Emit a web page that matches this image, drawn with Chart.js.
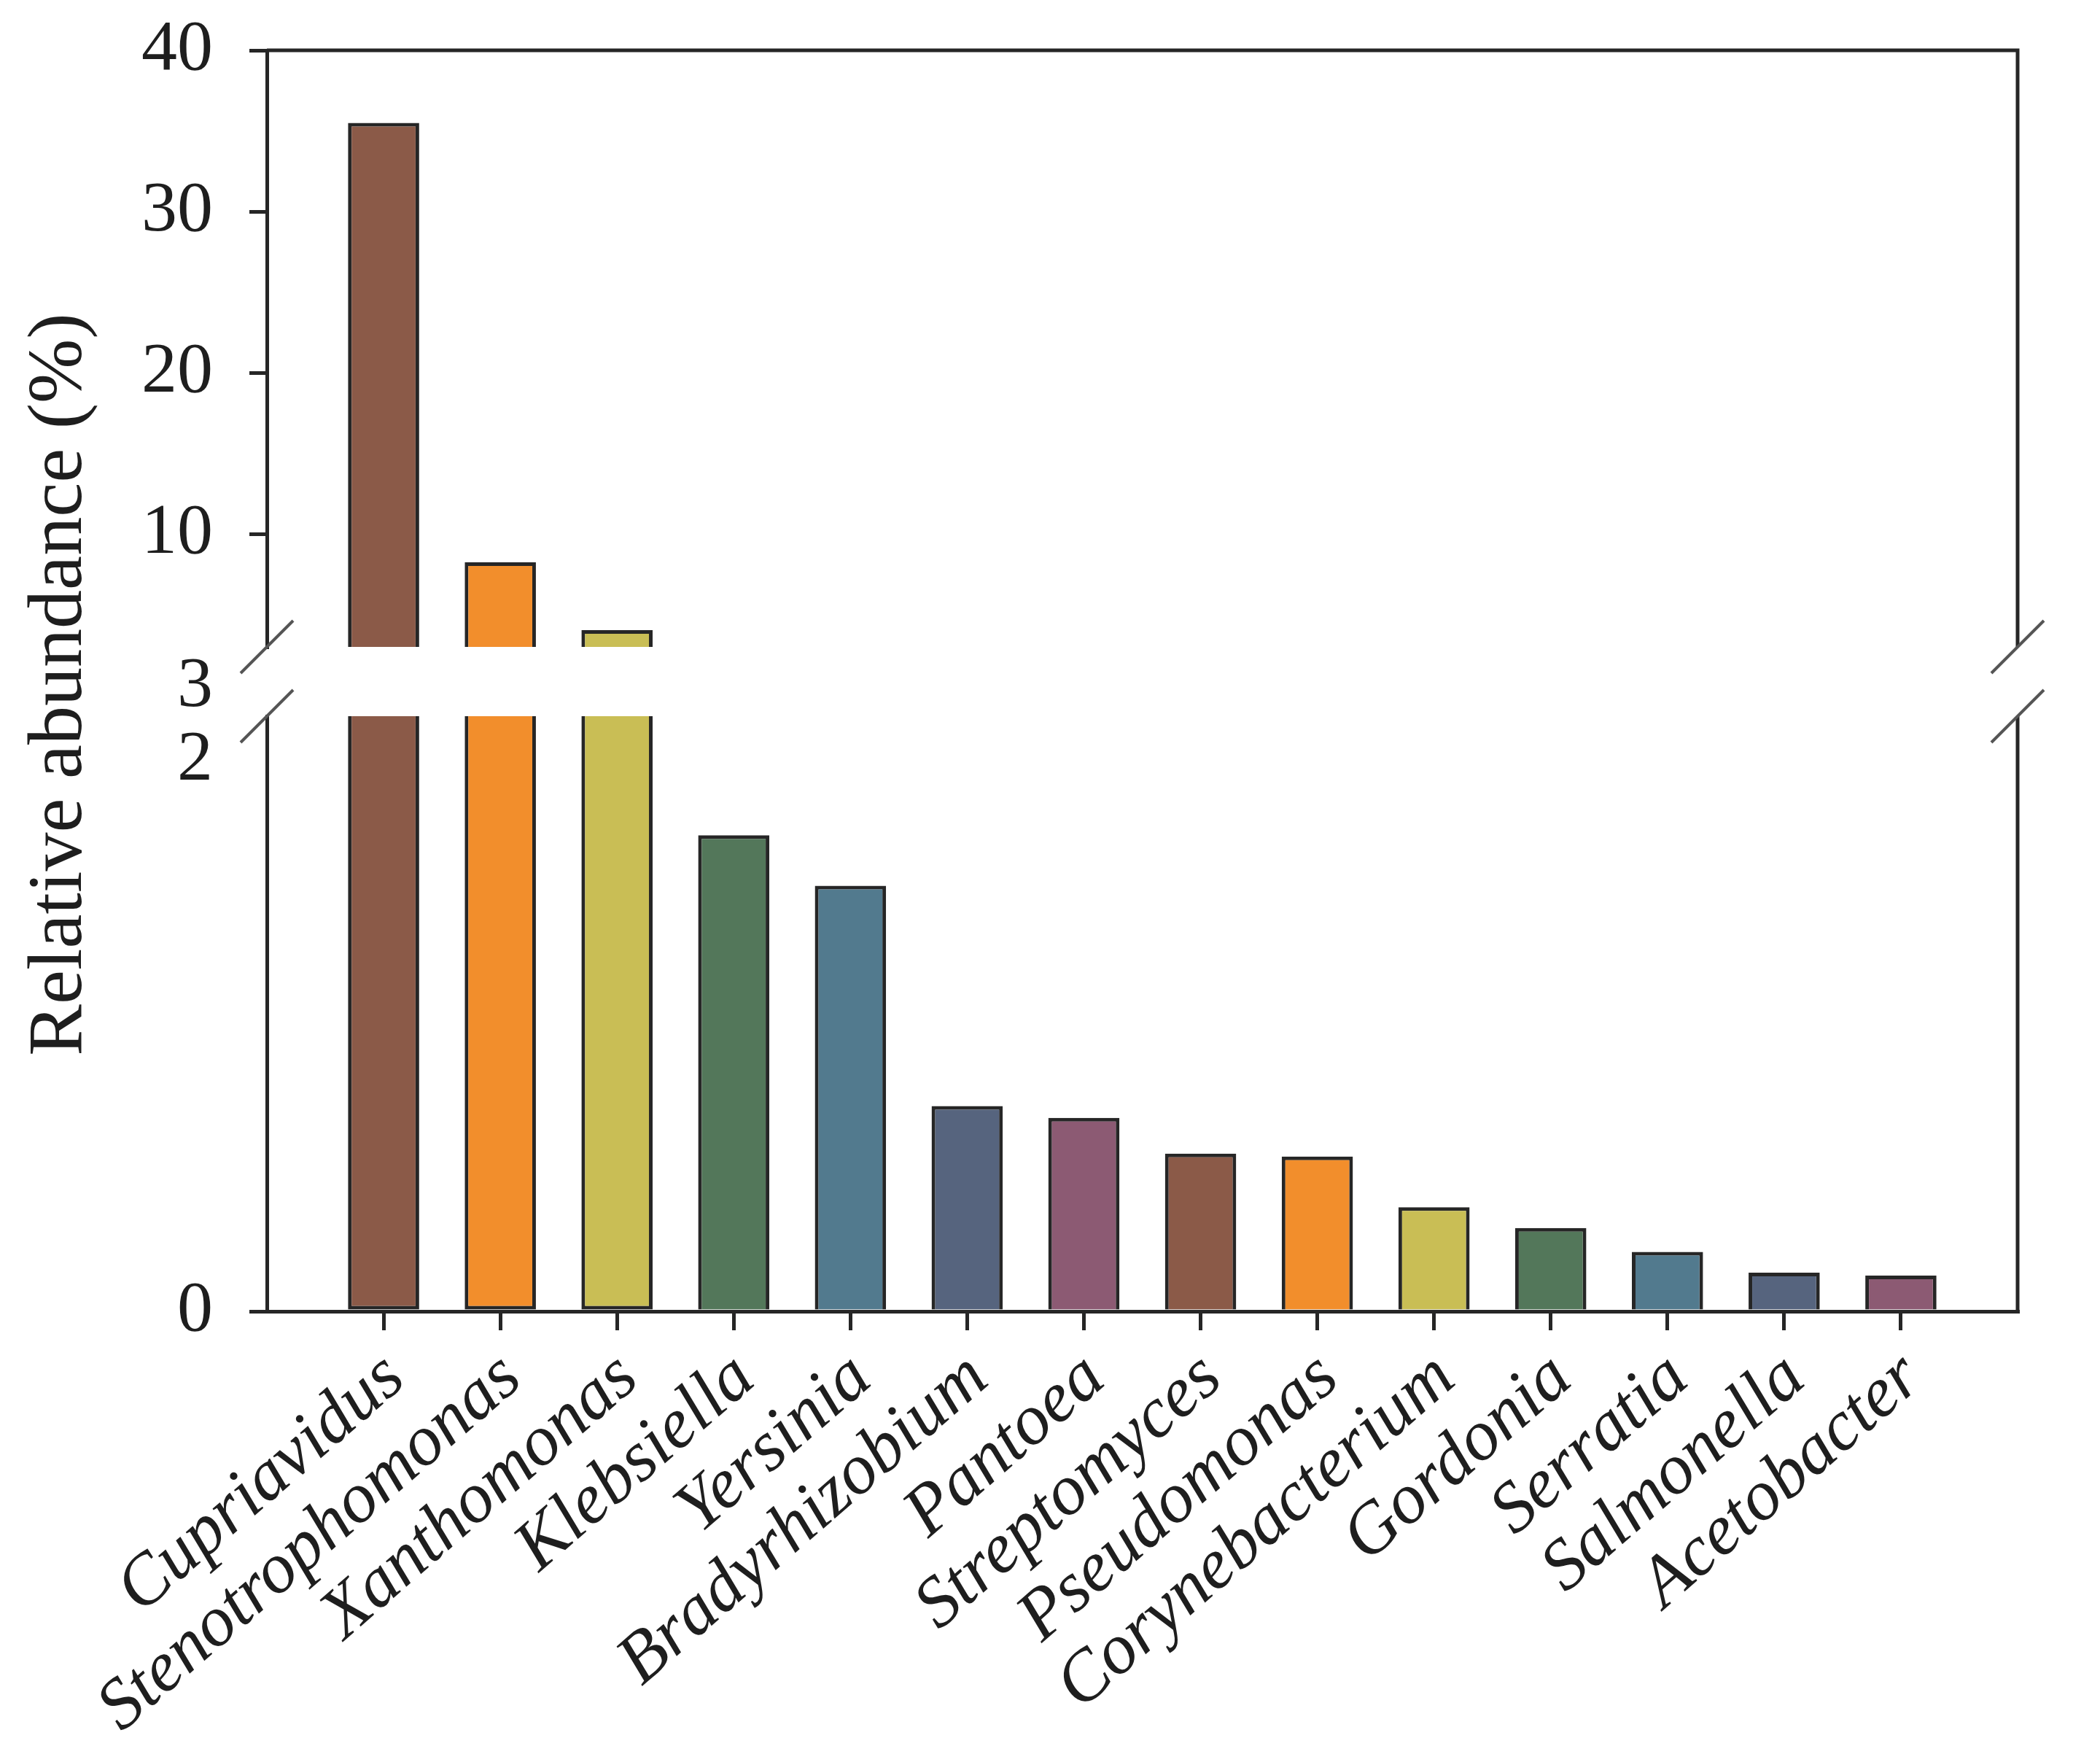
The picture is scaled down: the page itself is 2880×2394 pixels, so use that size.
<!DOCTYPE html>
<html>
<head>
<meta charset="utf-8">
<script src="https://cdn.jsdelivr.net/npm/chart.js@4.4.1/dist/chart.umd.min.js"></script>
<style>
  html, body { margin: 0; padding: 0; background: #fff; }
  canvas { display: block; }
</style>
</head>
<body>
<canvas id="abundanceChart" width="2880" height="2394"></canvas>
<script>
// genera, in plot order
const categories = ['Cupriavidus', 'Stenotrophomonas', 'Xanthomonas', 'Klebsiella', 'Yersinia',
  'Bradyrhizobium', 'Pantoea', 'Streptomyces', 'Pseudomonas', 'Corynebacterium',
  'Gordonia', 'Serratia', 'Salmonella', 'Acetobacter'];

// relative abundance (%)
const abundance = [35.5, 8.25, 4.04, 1.60, 1.43, 0.69, 0.65, 0.53, 0.52, 0.35, 0.28, 0.2, 0.13, 0.12];

// broken y axis: lower part 0..2, upper part 3..40
const lowerMax = 2;
const upperMin = 3;
const upperMax = 40;
const upperTicks = [10, 20, 30, 40];
const lowerTicks = [0];
const breakLabels = [3, 2];

const palette = ['#8b5a48', '#f28e2c', '#c9be55', '#53775a', '#527a8e', '#56647e', '#8c5a73'];

const axisColor = '#262626';
const textColor = '#1e1e1e';
const serif = "'Liberation Serif', 'Times New Roman', serif";

const barColors = categories.map((_, i) => palette[i % palette.length]);

const lowerData = abundance.map((v, i) => ({ x: i, y: [0, Math.min(v, lowerMax)] }));
const upperData = abundance
  .map((v, i) => ({ x: i, y: [upperMin, v], c: barColors[i] }))
  .filter(d => d.y[1] > upperMin);

const breakPlugin = {
  id: 'axisBreak',
  afterDraw(chart) {
    const { ctx, chartArea } = chart;
    const top = chart.scales.yTop;
    const bottom = chart.scales.yBottom;
    ctx.save();

    // frame: top and right side, broken at the gap
    ctx.strokeStyle = axisColor;
    ctx.lineWidth = 5;
    ctx.beginPath();
    ctx.moveTo(chartArea.left, chartArea.top);
    ctx.lineTo(chartArea.right, chartArea.top);
    ctx.lineTo(chartArea.right, top.bottom);
    ctx.moveTo(chartArea.right, bottom.top);
    ctx.lineTo(chartArea.right, chartArea.bottom);
    ctx.stroke();

    // break marks
    ctx.strokeStyle = '#555';
    ctx.lineWidth = 4;
    const d = 36;
    [chartArea.left, chartArea.right].forEach(x => {
      [top.bottom, bottom.top].forEach(y => {
        ctx.beginPath();
        ctx.moveTo(x - d, y + d);
        ctx.lineTo(x + d, y - d);
        ctx.stroke();
      });
    });

    // labels next to the break
    ctx.fillStyle = textColor;
    ctx.font = '98px ' + serif;
    ctx.textAlign = 'right';
    ctx.textBaseline = 'middle';
    const labelX = chartArea.left - 24 - 50;
    ctx.fillText(String(breakLabels[0]), labelX, top.getPixelForValue(upperMin) + 55);
    ctx.fillText(String(breakLabels[1]), labelX, bottom.getPixelForValue(lowerMax) + 61);

    // y axis title
    ctx.font = '106px ' + serif;
    ctx.textAlign = 'center';
    ctx.translate(83, (chartArea.top + chartArea.bottom) / 2 + 5);
    ctx.rotate(-Math.PI / 2);
    ctx.fillText('Relative abundance (%)', 0, 0);
    ctx.restore();
  }
};

const fixWidth = s => {
  s.width = 366;
  s.paddingTop = 0;
  s.paddingBottom = 0;
};

const yCommon = {
  type: 'linear',
  position: 'left',
  stack: 'y',
  afterFit: fixWidth,
  grid: { drawOnChartArea: false, tickLength: 24, lineWidth: 5, color: axisColor },
  border: { color: axisColor, width: 5 },
  ticks: { font: { family: serif, size: 98 }, color: textColor, padding: 50 }
};

new Chart(document.getElementById('abundanceChart'), {
  type: 'bar',
  data: {
    datasets: [
      {
        data: lowerData,
        yAxisID: 'yBottom',
        grouped: false,
        backgroundColor: barColors,
        borderColor: axisColor,
        borderWidth: 5,
        borderSkipped: ctx => abundance[ctx.dataIndex] > lowerMax ? 'end' : 'start',
        categoryPercentage: 1,
        barPercentage: 0.61
      },
      {
        data: upperData,
        yAxisID: 'yTop',
        grouped: false,
        backgroundColor: ctx => ctx.raw ? ctx.raw.c : palette[0],
        borderColor: axisColor,
        borderWidth: 5,
        borderSkipped: 'start',
        categoryPercentage: 1,
        barPercentage: 0.61
      }
    ]
  },
  options: {
    responsive: false,
    animation: false,
    layout: { padding: { top: 69, right: 113, left: 0, bottom: 0 } },
    plugins: { legend: { display: false }, tooltip: { enabled: false } },
    scales: {
      x: {
        type: 'linear',
        min: -1,
        max: categories.length,
        offset: false,
        afterBuildTicks: s => { s.ticks = categories.map((_, i) => ({ value: i })); },
        afterFit: s => { s.height = 596; },
        grid: { drawOnChartArea: false, offset: false, tickLength: 26, lineWidth: 5, color: axisColor },
        border: { color: axisColor, width: 5 },
        ticks: {
          autoSkip: false,
          minRotation: 41,
          maxRotation: 41,
          padding: 8,
          labelOffset: 16,
          font: { family: serif, size: 98, style: 'italic' },
          color: textColor,
          callback: v => categories[v]
        }
      },
      yTop: {
        ...yCommon,
        weight: 3,
        stackWeight: 818,
        min: upperMin,
        max: upperMax,
        afterBuildTicks: s => { s.ticks = upperTicks.map(v => ({ value: v })); }
      },
      yGap: {
        type: 'linear',
        position: 'left',
        stack: 'y',
        weight: 2,
        stackWeight: 95,
        afterFit: fixWidth,
        grid: { display: false },
        border: { display: false },
        ticks: { display: false }
      },
      yBottom: {
        ...yCommon,
        weight: 1,
        stackWeight: 816,
        min: 0,
        max: lowerMax,
        afterBuildTicks: s => { s.ticks = lowerTicks.map(v => ({ value: v })); }
      }
    }
  },
  plugins: [breakPlugin]
});
</script>
</body>
</html>
